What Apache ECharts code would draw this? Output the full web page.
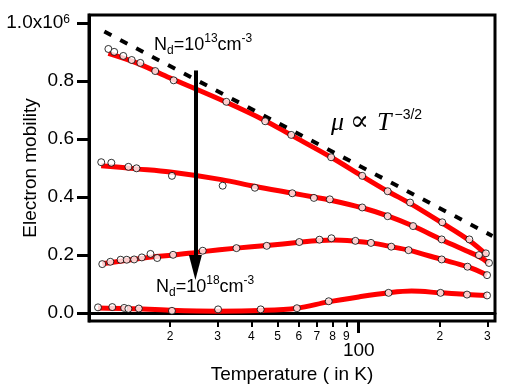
<!DOCTYPE html>
<html>
<head>
<meta charset="utf-8">
<script src="https://cdn.jsdelivr.net/npm/echarts@6/dist/echarts.min.js"></script>
<style>html,body{margin:0;padding:0;background:#fff}#c{width:510px;height:388px}</style>
</head>
<body>
<div id="c"></div>
<script>
// ---- data (temperature in K, mobility in units of 1e6) ----
const T1 = [11.8,12.4,13.4,14.4,15.5,17.6,20.6,32.3,45.0,56.2,79.0,103,128,155,204,257,296];
const V1 = [0.910,0.900,0.886,0.872,0.862,0.834,0.802,0.728,0.661,0.614,0.537,0.473,0.420,0.381,0.313,0.254,0.206];
const T2 = [11.1,12.1,14.0,15.0,20.3,31.3,41.2,56.7,68.2,78.1,103,128,159,203,279,304];
const V2 = [0.520,0.518,0.504,0.499,0.473,0.439,0.432,0.413,0.397,0.392,0.364,0.334,0.300,0.254,0.200,0.173];
const T3 = [11.2,12.0,13.1,13.8,14.7,15.7,16.9,17.9,20.5,26.4,35.2,45.6,60.2,71.5,79.2,97.2,111,132,153,203,253,299];
const V3 = [0.169,0.177,0.184,0.184,0.185,0.192,0.204,0.190,0.201,0.215,0.224,0.232,0.245,0.253,0.258,0.249,0.242,0.229,0.217,0.185,0.160,0.131];
const T4 = [10.8,12.2,13.5,14.0,15.3,20.3,30.1,43.3,59.0,77.4,129,201,252,299];
const V4 = [0.020,0.021,0.018,0.015,0.016,0.008,0.013,0.013,0.017,0.041,0.070,0.070,0.064,0.061];

// fitted curves (red)
const F1T = [11.8,15,20,32,45,56,79,103,128,155,204,257,300];
const F1V = [0.895,0.862,0.810,0.728,0.663,0.614,0.537,0.472,0.420,0.378,0.310,0.250,0.198];
const F2T = [11.1,15,20,31,41,57,68,78,103,128,159,203,250,279,304];
const F2V = [0.508,0.497,0.486,0.460,0.437,0.413,0.400,0.390,0.363,0.335,0.300,0.253,0.215,0.195,0.172];
const F3T = [11.2,14,17,20.5,26.4,35.2,45.6,60.2,71.5,80,97,111,132,153,203,253,299];
const F3V = [0.170,0.183,0.193,0.200,0.212,0.224,0.233,0.244,0.250,0.252,0.248,0.242,0.229,0.217,0.185,0.160,0.131];
const F4T = [10.8,14,20,30,43,59,77,100,129,157,201,252,299];
const F4V = [0.018,0.016,0.010,0.007,0.009,0.017,0.039,0.056,0.070,0.076,0.070,0.064,0.061];

// mu ~ T^-3/2 guide (dashed)
const DT = [11.4, 313];
const DV = [0.970, 0.266];

// arrow (N_d increasing)
const arrowT = 24.8;
const arrowFrom = 0.836;
const arrowTo = 0.157;

// ticks
const minorTicks = [20,30,40,50,60,70,80,90,200,300];
const majorTicks = [100];
const yTicks = [0,0.2,0.4,0.6,0.8,1.0];

const pairs = (t, v) => t.map((x, i) => [x, v[i]]);
const FONT = 'Liberation Sans, Arial, sans-serif';
const XMIN = 10, XMAX = 320;

const chart = echarts.init(document.getElementById('c'), null, {renderer: 'canvas'});

function fitSeries(t, v) {
  return {type: 'line', xAxisIndex: 0, data: pairs(t, v), smooth: 0.35, symbol: 'none',
    lineStyle: {color: '#ff0000', width: 5}, z: 2, silent: true};
}
function dotSeries(t, v) {
  return {type: 'scatter', xAxisIndex: 0, data: pairs(t, v), symbol: 'circle', symbolSize: 7,
    itemStyle: {color: '#fff', borderColor: '#000', borderWidth: 1}, z: 5, silent: true};
}

const option = {
  animation: false,
  backgroundColor: '#fff',
  grid: {left: 89, right: 15, top: 15, bottom: 67, show: true, borderColor: '#000', borderWidth: 3,
    backgroundColor: 'transparent', containLabel: false, outerBoundsMode: 'none'},
  xAxis: [
    {type: 'log', min: XMIN, max: XMAX, position: 'bottom',
      axisLine: {show: true, lineStyle: {color: '#000', width: 3}},
      axisTick: {show: false}, axisLabel: {show: false}, splitLine: {show: false}, minorTick: {show: false},
      name: 'Temperature ( in K)', nameLocation: 'middle', nameGap: 44, nameMoveOverlap: false,
      nameTextStyle: {fontFamily: FONT, fontSize: 19, color: '#000'}},
    {type: 'value', min: Math.log10(XMIN), max: Math.log10(XMAX), position: 'bottom',
      axisLine: {show: false}, splitLine: {show: false},
      axisTick: {show: true, inside: false, length: 6, customValues: minorTicks.map(Math.log10), lineStyle: {color: '#000', width: 2}},
      axisLabel: {show: true, margin: 10, customValues: minorTicks.map(Math.log10), fontFamily: FONT, fontSize: 12, color: '#000',
        formatter: v => String(Math.round(Math.pow(10, v))).charAt(0)}},
    {type: 'value', min: Math.log10(XMIN), max: Math.log10(XMAX), position: 'bottom',
      axisLine: {show: false}, splitLine: {show: false},
      axisTick: {show: true, inside: false, length: 12, customValues: majorTicks.map(Math.log10), lineStyle: {color: '#000', width: 3}},
      axisLabel: {show: true, margin: 20, customValues: majorTicks.map(Math.log10), fontFamily: FONT, fontSize: 19, color: '#000',
        formatter: v => String(Math.round(Math.pow(10, v)))}}
  ],
  yAxis: {
    type: 'value', min: -0.027, max: 1.027,
    axisLine: {show: true, lineStyle: {color: '#000', width: 3}},
    axisTick: {show: true, inside: false, length: 12, customValues: yTicks, lineStyle: {color: '#000', width: 3}},
    axisLabel: {show: true, margin: 15, customValues: yTicks, fontFamily: FONT, fontSize: 19, color: '#000',
      formatter: v => (Math.abs(v - 1) < 1e-9 ? '1.0x10{sup|6}' : v.toFixed(1)),
      rich: {sup: {fontFamily: FONT, fontSize: 12, lineHeight: 8, verticalAlign: 'top', color: '#000', padding: [0, 4, 0, 0]}}},
    splitLine: {show: false},
    name: 'Electron mobility', nameLocation: 'middle', nameGap: 49, nameRotate: 90, nameMoveOverlap: false,
    nameTextStyle: {fontFamily: FONT, fontSize: 19, color: '#000'}
  },
  series: [
    fitSeries(F1T, F1V), fitSeries(F2T, F2V), fitSeries(F3T, F3V), fitSeries(F4T, F4V),
    {type: 'line', xAxisIndex: 0, data: pairs(DT, DV), symbol: 'none', silent: true, z: 3,
      lineStyle: {color: '#000', width: 4, type: [8, 10], cap: 'butt'},
      markLine: {silent: true, symbol: ['none', 'triangle'], symbolSize: [13, 25], z: 4,
        lineStyle: {color: '#000', width: 4, type: 'solid'}, label: {show: false},
        itemStyle: {color: '#000'},
        data: [[{coord: [arrowT, arrowFrom]}, {coord: [arrowT, arrowTo]}]]}},
    dotSeries(T1, V1), dotSeries(T2, V2), dotSeries(T3, V3), dotSeries(T4, V4)
  ],
  graphic: [
    {type: 'text', left: 154, top: 33, z: 10, style: {
      text: '{b|N}{sub|d}{b|=10}{sup|13}{b|cm}{sup|-3}', fill: '#000',
      rich: {b: {fontFamily: FONT, fontSize: 18, lineHeight: 24}, sub: {fontFamily: FONT, fontSize: 12, lineHeight: 10, verticalAlign: 'bottom'}, sup: {fontFamily: FONT, fontSize: 12, lineHeight: 10, verticalAlign: 'top'}}}},
    {type: 'text', left: 156, top: 275, z: 10, style: {
      text: '{b|N}{sub|d}{b|=10}{sup|18}{b|cm}{sup|-3}', fill: '#000',
      rich: {b: {fontFamily: FONT, fontSize: 18, lineHeight: 24}, sub: {fontFamily: FONT, fontSize: 12, lineHeight: 10, verticalAlign: 'bottom'}, sup: {fontFamily: FONT, fontSize: 12, lineHeight: 10, verticalAlign: 'top'}}}},
    {type: 'text', left: 331, top: 108, z: 10, style: {
      text: '{i|μ}{r|∝}{i|T}{sup|−3/2}', fill: '#000',
      rich: {i: {fontFamily: 'Liberation Serif, DejaVu Serif, serif', fontStyle: 'italic', fontSize: 26, lineHeight: 30},
        r: {fontFamily: 'DejaVu Serif, serif', fontSize: 28, lineHeight: 30, padding: [0, 8, 0, 6]},
        sup: {fontFamily: 'Liberation Sans, sans-serif', fontSize: 14, lineHeight: 16, verticalAlign: 'top', padding: [0, 0, 0, 3]}}}}
  ]
};
chart.setOption(option);
</script>
</body>
</html>
